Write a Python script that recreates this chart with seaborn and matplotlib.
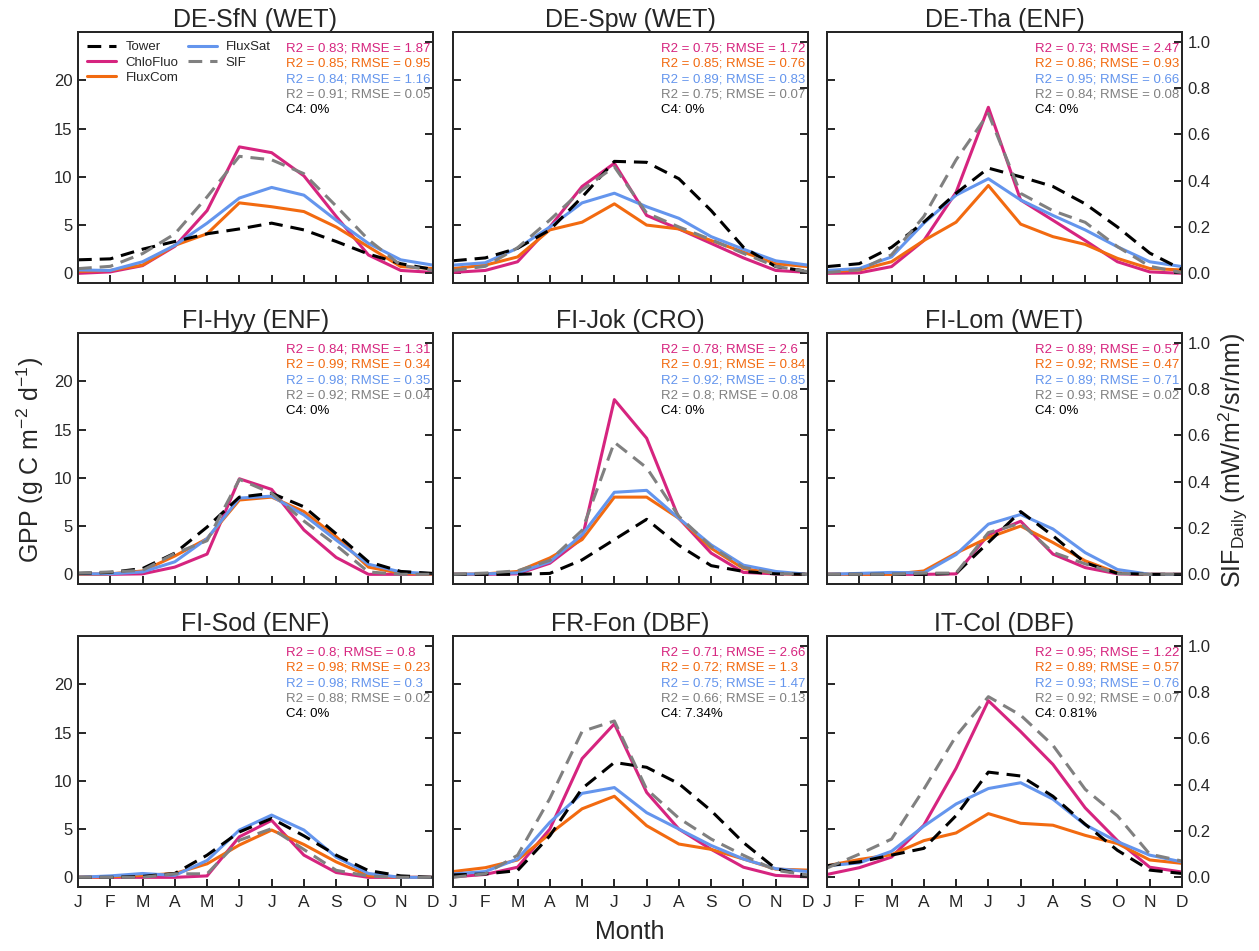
import numpy as np
import pandas as pd
import matplotlib
matplotlib.use("Agg")
import matplotlib.pyplot as plt
from matplotlib.ticker import FormatStrFormatter
import seaborn as sns

# Sites and month axis
SITES = ["DE-SfN (WET)", "DE-Spw (WET)", "DE-Tha (ENF)",
         "FI-Hyy (ENF)", "FI-Jok (CRO)", "FI-Lom (WET)",
         "FI-Sod (ENF)", "FR-Fon (DBF)", "IT-Col (DBF)"]
MONTHS = list(range(1, 13))
MONTH_LABELS = ["J", "F", "M", "A", "M", "J", "J", "A", "S", "O", "N", "D"]

# Monthly GPP (g C m-2 d-1), one row per site
TOWER = [
    [1.4, 1.5, 2.5, 3.3, 4.1, 4.6, 5.2, 4.5, 3.3, 2.0, 1.0, 0.4],
    [1.3, 1.6, 2.6, 4.5, 7.9, 11.6, 11.5, 9.8, 6.5, 2.7, 0.7, 0.2],
    [0.7, 1.0, 2.7, 5.3, 8.3, 10.9, 10.0, 9.0, 7.2, 4.8, 2.1, 0.4],
    [0.1, 0.2, 0.6, 2.2, 4.9, 8.0, 8.4, 7.0, 4.2, 1.3, 0.3, 0.1],
    [0.0, 0.0, 0.0, 0.1, 1.5, 3.6, 5.7, 3.0, 0.9, 0.3, 0.05, 0.0],
    [0.0, 0.0, 0.0, 0.0, 0.1, 3.3, 6.5, 4.0, 1.2, 0.1, 0.0, 0.0],
    [0.0, 0.0, 0.1, 0.4, 2.3, 4.7, 6.1, 4.3, 2.3, 0.7, 0.15, 0.0],
    [0.25, 0.35, 0.7, 4.3, 9.2, 11.9, 11.4, 9.7, 6.9, 3.6, 0.9, 0.15],
    [1.2, 1.6, 2.3, 3.0, 6.4, 10.9, 10.5, 8.4, 5.5, 2.8, 0.75, 0.4],
]
CHLOFLUO = [
    [0.0, 0.15, 0.8, 2.8, 6.5, 13.1, 12.5, 10.1, 5.9, 1.9, 0.3, 0.1],
    [0.1, 0.3, 1.2, 4.8, 9.0, 11.4, 6.0, 4.6, 3.1, 1.6, 0.3, 0.1],
    [0.0, 0.05, 0.7, 3.4, 8.4, 17.2, 7.6, 5.5, 3.4, 1.2, 0.15, 0.0],
    [0.0, 0.0, 0.05, 0.75, 2.1, 9.9, 8.8, 4.6, 1.75, 0.0, 0.0, 0.0],
    [0.0, 0.0, 0.05, 1.15, 3.7, 18.1, 14.1, 5.8, 2.2, 0.2, 0.05, 0.0],
    [0.0, 0.0, 0.0, 0.0, 0.05, 4.1, 5.5, 2.1, 0.7, 0.05, 0.0, 0.0],
    [0.0, 0.0, 0.0, 0.0, 0.15, 4.2, 5.9, 2.3, 0.5, 0.0, 0.0, 0.0],
    [0.05, 0.3, 1.05, 5.0, 12.3, 15.9, 8.8, 5.0, 2.9, 1.05, 0.2, 0.05],
    [0.3, 1.0, 2.1, 5.4, 11.3, 18.3, 15.1, 11.7, 7.2, 3.8, 1.05, 0.55],
]
FLUXCOM = [
    [0.2, 0.3, 0.85, 2.9, 4.1, 7.3, 6.9, 6.4, 4.8, 2.75, 0.7, 0.5],
    [0.5, 0.85, 1.7, 4.5, 5.3, 7.2, 5.0, 4.6, 3.4, 2.2, 1.0, 0.7],
    [0.15, 0.35, 1.2, 3.4, 5.3, 9.1, 5.1, 3.8, 3.0, 1.55, 0.5, 0.35],
    [0.0, 0.05, 0.35, 1.9, 3.7, 7.7, 8.0, 6.5, 3.9, 0.75, 0.1, 0.0],
    [0.0, 0.05, 0.3, 1.7, 3.6, 8.0, 8.0, 5.8, 2.7, 0.6, 0.1, 0.0],
    [0.0, 0.0, 0.0, 0.35, 2.2, 3.8, 5.0, 3.3, 1.4, 0.15, 0.0, 0.0],
    [0.0, 0.05, 0.2, 0.4, 1.4, 3.35, 4.9, 3.4, 1.6, 0.15, 0.0, 0.0],
    [0.6, 1.0, 1.8, 4.5, 7.1, 8.4, 5.35, 3.45, 2.9, 1.9, 0.85, 0.75],
    [1.2, 1.85, 2.35, 3.8, 4.6, 6.6, 5.6, 5.4, 4.35, 3.5, 1.8, 1.45],
]
FLUXSAT = [
    [0.35, 0.3, 1.2, 2.9, 5.2, 7.8, 8.9, 8.1, 5.5, 3.1, 1.4, 0.85],
    [0.85, 1.1, 2.6, 4.8, 7.3, 8.3, 6.9, 5.7, 3.8, 2.5, 1.3, 0.85],
    [0.3, 0.5, 1.7, 5.2, 8.1, 9.8, 7.6, 6.0, 4.5, 2.75, 1.2, 0.7],
    [0.05, 0.05, 0.25, 1.3, 3.7, 7.9, 8.1, 6.15, 3.55, 1.05, 0.25, 0.05],
    [0.0, 0.05, 0.15, 1.3, 4.1, 8.5, 8.7, 5.8, 3.05, 0.95, 0.3, 0.0],
    [0.0, 0.1, 0.2, 0.15, 2.05, 5.2, 6.2, 4.7, 2.25, 0.5, 0.0, 0.0],
    [0.0, 0.15, 0.4, 0.2, 1.75, 4.9, 6.45, 4.9, 2.1, 0.4, 0.0, 0.0],
    [0.35, 0.6, 1.9, 5.7, 8.7, 9.3, 6.7, 5.0, 3.3, 1.9, 0.9, 0.6],
    [1.2, 1.5, 2.7, 5.3, 7.6, 9.2, 9.8, 8.1, 5.45, 3.7, 2.3, 1.6],
]
# Monthly daily SIF (mW/m2/sr/nm), one row per site
SIF = [
    [0.02, 0.03, 0.085, 0.17, 0.33, 0.505, 0.49, 0.43, 0.29, 0.145, 0.035, 0.012],
    [0.012, 0.03, 0.11, 0.23, 0.36, 0.46, 0.26, 0.2, 0.145, 0.086, 0.03, 0.007],
    [0.003, 0.015, 0.08, 0.245, 0.49, 0.69, 0.345, 0.27, 0.22, 0.115, 0.03, 0.003],
    [0.005, 0.01, 0.017, 0.09, 0.145, 0.41, 0.35, 0.23, 0.125, 0.01, 0.0, 0.0],
    [0.0, 0.005, 0.015, 0.06, 0.19, 0.57, 0.46, 0.25, 0.12, 0.03, 0.003, 0.0],
    [0.0, 0.0, 0.0, 0.005, 0.005, 0.18, 0.22, 0.095, 0.045, 0.003, 0.0, 0.0],
    [0.0, 0.0, 0.0, 0.015, 0.015, 0.16, 0.21, 0.12, 0.03, 0.005, 0.0, 0.0],
    [0.0, 0.015, 0.095, 0.34, 0.63, 0.675, 0.38, 0.255, 0.165, 0.095, 0.03, 0.01],
    [0.04, 0.1, 0.165, 0.38, 0.61, 0.78, 0.70, 0.57, 0.38, 0.265, 0.1, 0.07],
]

# Agreement with tower GPP: (R2, RMSE) per product and site
STATS_CHLOFLUO = [("0.83", "1.87"), ("0.75", "1.72"), ("0.73", "2.47"),
                  ("0.84", "1.31"), ("0.78", "2.6"), ("0.89", "0.57"),
                  ("0.8", "0.8"), ("0.71", "2.66"), ("0.95", "1.22")]
STATS_FLUXCOM = [("0.85", "0.95"), ("0.85", "0.76"), ("0.86", "0.93"),
                 ("0.99", "0.34"), ("0.91", "0.84"), ("0.92", "0.47"),
                 ("0.98", "0.23"), ("0.72", "1.3"), ("0.89", "0.57")]
STATS_FLUXSAT = [("0.84", "1.16"), ("0.89", "0.83"), ("0.95", "0.66"),
                 ("0.98", "0.35"), ("0.92", "0.85"), ("0.89", "0.71"),
                 ("0.98", "0.3"), ("0.75", "1.47"), ("0.93", "0.76")]
STATS_SIF = [("0.91", "0.05"), ("0.75", "0.07"), ("0.84", "0.08"),
             ("0.92", "0.04"), ("0.8", "0.08"), ("0.93", "0.02"),
             ("0.88", "0.02"), ("0.66", "0.13"), ("0.92", "0.07")]
C4_FRACTION = ["0%", "0%", "0%", "0%", "0%", "0%", "0%", "7.34%", "0.81%"]

# Styling
COLORS = {"Tower": "black", "ChloFluo": "#D6247F", "FluxCom": "#F26A10",
          "FluxSat": "#6495ED", "SIF": "#808080"}
DASH = (0, (4.5, 2.6))
LW = 2.2

sns.set_style("ticks")
plt.rcParams["font.family"] = ["Liberation Sans", "DejaVu Sans"]
plt.rcParams["mathtext.fontset"] = "custom"
plt.rcParams["mathtext.rm"] = "Liberation Sans"
plt.rcParams["mathtext.it"] = "Liberation Sans:italic"
plt.rcParams["axes.linewidth"] = 1.4

fig = plt.figure(figsize=(12.59, 9.51), dpi=100)
W, H = 1259.0, 951.0
col_left = [78, 453, 827]
row_top = [32, 333, 636]
ax_w, ax_h = 355, 251

gpp_products = [("ChloFluo", CHLOFLUO), ("FluxCom", FLUXCOM),
                ("FluxSat", FLUXSAT), ("Tower", TOWER)]
stat_rows = [("ChloFluo", STATS_CHLOFLUO), ("FluxCom", STATS_FLUXCOM),
             ("FluxSat", STATS_FLUXSAT), ("SIF", STATS_SIF)]

for i, site in enumerate(SITES):
    r, c = divmod(i, 3)
    ax = fig.add_axes([col_left[c] / W, 1 - (row_top[r] + ax_h) / H,
                       ax_w / W, ax_h / H])
    ax2 = ax.twinx()

    for name, arr in gpp_products:
        sns.lineplot(x=MONTHS, y=arr[i], ax=ax, color=COLORS[name], lw=LW,
                     linestyle=DASH if name == "Tower" else "-",
                     label=name, legend=False)
    sns.lineplot(x=MONTHS, y=SIF[i], ax=ax2, color=COLORS["SIF"], lw=LW,
                 linestyle=DASH, label="SIF", legend=False)

    ax.set_xlim(1, 12)
    ax.set_ylim(-1.0, 25.0)
    ax2.set_ylim(-0.042, 1.042)
    ax.set_xticks(MONTHS)
    ax.set_yticks([0, 5, 10, 15, 20])
    ax2.set_yticks([0, 0.2, 0.4, 0.6, 0.8, 1.0])
    ax2.yaxis.set_major_formatter(FormatStrFormatter("%.1f"))
    ax.set_xlabel("")
    ax.set_ylabel("")
    ax2.set_ylabel("")

    ax.tick_params(axis="both", direction="in", length=6, width=1.4,
                   labelsize=12, pad=4)
    ax2.tick_params(axis="y", direction="in", length=6, width=1.4,
                    labelsize=12, pad=4)
    ax.tick_params(axis="y", labelleft=(c == 0))
    ax2.tick_params(axis="y", labelright=(c == 2))
    if r == 2:
        ax.set_xticklabels(MONTH_LABELS)
        ax.tick_params(axis="x", labelbottom=True, pad=6, labelsize=12.5)
    else:
        ax.tick_params(axis="x", labelbottom=False)
    for sp in ax2.spines.values():
        sp.set_linewidth(1.4)

    ax.set_title(site, fontsize=18, pad=2)

    # Statistics block in the upper right
    y0, dy = 0.936, 0.062
    for k, (name, stats) in enumerate(stat_rows):
        r2, rmse = stats[i]
        ax2.text(0.587, y0 - k * dy, f"R2 = {r2}; RMSE = {rmse}",
                 transform=ax.transAxes, ha="left", va="center",
                 fontsize=9.5, color=COLORS[name])
    ax2.text(0.587, y0 - 4 * dy, f"C4: {C4_FRACTION[i]}",
             transform=ax.transAxes, ha="left", va="center",
             fontsize=9.5, color="black")

    if i == 0:
        h1, l1 = ax.get_legend_handles_labels()
        h2, l2 = ax2.get_legend_handles_labels()
        handles = dict(zip(l1 + l2, h1 + h2))
        order = ["Tower", "ChloFluo", "FluxCom", "FluxSat", "SIF"]
        ax2.legend([handles[k] for k in order], order, loc="upper left",
                   bbox_to_anchor=(0.0, 1.0), ncol=2, frameon=False,
                   fontsize=9.5, handlelength=2.2, handletextpad=0.7,
                   columnspacing=0.7, labelspacing=0.22, borderaxespad=0.3)

fig.text(30 / W, 1 - 460 / H, r"GPP (g C m$^{-2}$ d$^{-1}$)", rotation=90,
         ha="center", va="center", fontsize=18)
fig.text(1233 / W, 1 - 460 / H, r"SIF$_{\mathrm{Daily}}$ (mW/m$^{2}$/sr/nm)",
         rotation=90, ha="center", va="center", fontsize=18)
fig.text(630 / W, 1 - 932 / H, "Month", ha="center", va="center", fontsize=18)

fig.savefig("out.png", dpi=100)
